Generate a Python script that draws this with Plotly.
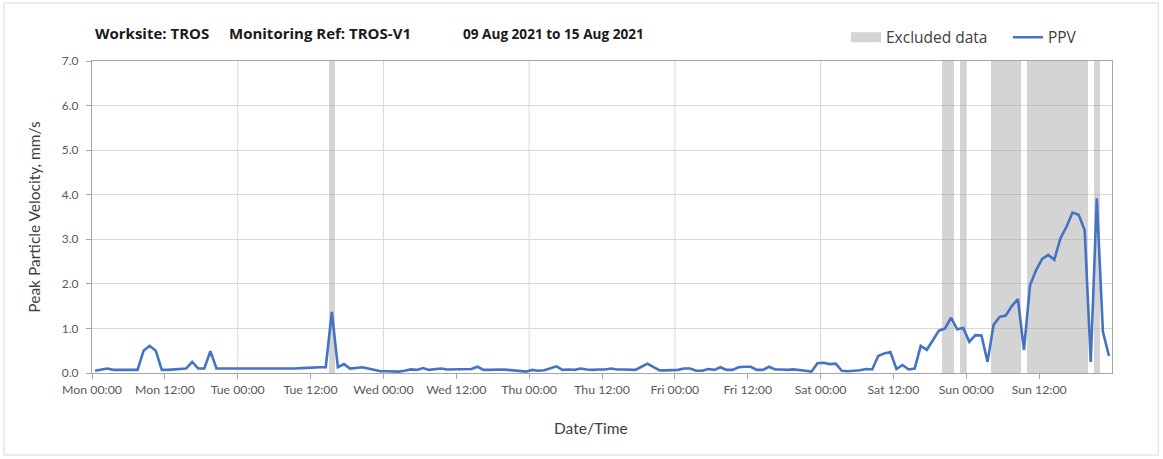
import pandas as pd
import plotly.graph_objects as go

# ---- data ----
start = "2021-08-09 00:00"
end = "2021-08-16 00:00"
ppv = [
    0.05, 0.08, 0.1, 0.07, 0.07, 0.07, 0.07, 0.07, 0.5, 0.61, 0.5, 0.07, 0.07, 0.08, 0.08, 0.1, 0.25, 0.1, 0.1, 0.49, 0.1,
    0.1, 0.1, 0.1, 0.1, 0.1, 0.1, 0.1, 0.09, 0.1, 0.1, 0.1, 0.1, 0.1, 0.11, 0.12, 0.12, 0.13, 0.13,
    1.37,
    0.13, 0.2, 0.1, 0.11, 0.13, 0.1, 0.07, 0.04, 0.04, 0.04, 0.03,
    0.05, 0.08, 0.07, 0.11, 0.07, 0.08, 0.1, 0.08, 0.08, 0.09, 0.08, 0.09, 0.14, 0.07, 0.07, 0.08, 0.08, 0.07, 0.06, 0.05,
    0.03, 0.07, 0.05, 0.06, 0.1, 0.15, 0.07, 0.08, 0.07, 0.1, 0.08, 0.07, 0.08, 0.08, 0.1, 0.08, 0.08, 0.07, 0.07, 0.14,
    0.21, 0.13, 0.06, 0.06, 0.07, 0.07, 0.1, 0.1, 0.05, 0.05,
    0.09, 0.07, 0.13, 0.07, 0.07, 0.13, 0.14, 0.14, 0.07, 0.07, 0.14, 0.08, 0.08, 0.07, 0.08, 0.07, 0.05, 0.03, 0.22, 0.23,
    0.2, 0.21, 0.05, 0.04, 0.05, 0.06, 0.09, 0.08, 0.38, 0.44, 0.47, 0.09, 0.18, 0.08, 0.1, 0.61, 0.52, 0.74, 0.95, 1.0,
    1.24, 0.98, 1.01, 0.7, 0.85, 0.84, 0.25, 1.08, 1.26, 1.29, 1.5, 1.66, 0.52, 1.97, 2.31, 2.56, 2.65, 2.54, 3.02, 3.28,
    3.6, 3.55, 3.21, 0.25, 3.92, 0.93, 0.38,
]
excluded_hours = [39, 140, 141, 143, 148, 149, 150, 151, 152,
                  154, 155, 156, 157, 158, 159, 160, 161, 162, 163, 165]
y_max = 7.0
tick_labels = ["Mon 00:00", "Mon 12:00", "Tue 00:00", "Tue 12:00", "Wed 00:00", "Wed 12:00",
               "Thu 00:00", "Thu 12:00", "Fri 00:00", "Fri 12:00", "Sat 00:00", "Sat 12:00",
               "Sun 00:00", "Sun 12:00"]
title_parts = ["Worksite: TROS", "Monitoring Ref: TROS-V1", "09 Aug 2021 to 15 Aug 2021"]

assert len(ppv) == 168

t0 = pd.Timestamp(start)
times = [t0 + pd.Timedelta(minutes=30) + pd.Timedelta(hours=i) for i in range(len(ppv))]
excl_times = [times[h] for h in excluded_hours]
tick_vals = [t0 + pd.Timedelta(hours=12 * k) for k in range(len(tick_labels))]
midnights = [t0 + pd.Timedelta(days=d) for d in range(1, 7)]

FONT = "Lato, 'Open Sans', sans-serif"
TFONT = "'Open Sans', Lato, sans-serif"
GRID = "#d9d9d9"
BAND = "rgba(160,160,160,0.45)"

fig = go.Figure()
fig.add_trace(go.Bar(
    x=excl_times, y=[y_max] * len(excl_times), width=3600000,
    name="Excluded data", showlegend=False,
    marker=dict(color=BAND, line=dict(width=0)),
    hoverinfo="skip",
))
# legend swatch for excluded data (wide grey block like the reference)
fig.add_trace(go.Scatter(
    x=[None], y=[None], mode="lines", name="Excluded data", legend="legend",
    line=dict(color="#d3d3d3", width=10),
))
fig.add_trace(go.Scatter(
    x=times, y=ppv, mode="lines", name="PPV", legend="legend2",
    line=dict(color="#4472C4", width=2.6),
))

shapes = []
for m in midnights:
    shapes.append(dict(type="line", xref="x", yref="paper", x0=m, x1=m, y0=0, y1=1,
                       line=dict(color=GRID, width=1), layer="below"))
# outer chart frame
shapes.append(dict(type="rect", xref="paper", yref="paper",
                   x0=-0.0863, x1=1.0453, y0=-0.263, y1=1.186,
                   line=dict(color="#d9d9d9", width=1), layer="below"))

title_x = [0.001, 0.1324, 0.3618]
title_sizes = [15, 15, 13.6]
annotations = [dict(text="<b>%s</b>" % txt, xref="paper", yref="paper",
                    x=xx, y=1.0897, xanchor="left", yanchor="middle", showarrow=False,
                    font=dict(size=sz, color="#1a1a1a", family=TFONT))
               for txt, xx, sz in zip(title_parts, title_x, title_sizes)]
annotations.append(dict(text="Date/Time", xref="paper", yref="paper", x=0.489, y=-0.176,
                        xanchor="center", yanchor="middle", showarrow=False,
                        font=dict(size=15.5, color="#404040", family=FONT)))

legend_common = dict(orientation="h", y=1.075, yanchor="middle", xanchor="left",
                     font=dict(size=15.5, color="#404040", family=TFONT),
                     itemwidth=30, bgcolor="rgba(0,0,0,0)")
fig.update_layout(
    width=1163, height=459,
    margin=dict(l=92, r=51, t=61, b=86),
    paper_bgcolor="white", plot_bgcolor="white",
    font=dict(family=FONT, color="#595959"),
    barmode="overlay", bargap=0,
    showlegend=True,
    legend=dict(x=0.7392, **legend_common),
    legend2=dict(x=0.898, **legend_common),
    annotations=annotations,
    shapes=shapes,
)
fig.update_xaxes(
    type="date", range=[t0, pd.Timestamp(end)],
    tickvals=tick_vals, ticktext=tick_labels,
    ticks="outside", ticklen=5, tickcolor="#a6a6a6",
    tickfont=dict(size=12.3, color="#595959"),
    showgrid=False, showline=True, linecolor="#a6a6a6", linewidth=1, mirror=True,
    zeroline=False,
)
fig.update_yaxes(
    range=[0, y_max], dtick=1, tickformat=".1f",
    ticks="outside", ticklen=5, tickcolor="#a6a6a6",
    tickfont=dict(size=12, color="#595959"), ticklabelstandoff=5,
    showgrid=True, gridcolor=GRID, gridwidth=1,
    showline=True, linecolor="#a6a6a6", linewidth=1, mirror=True,
    title=dict(text="Peak Particle Velocity, mm/s", font=dict(size=15.5, color="#404040"), standoff=17),
    zeroline=False,
)

fig.write_html("out.html", config={"displayModeBar": False},
               post_script="document.body.style.margin='0px';")
